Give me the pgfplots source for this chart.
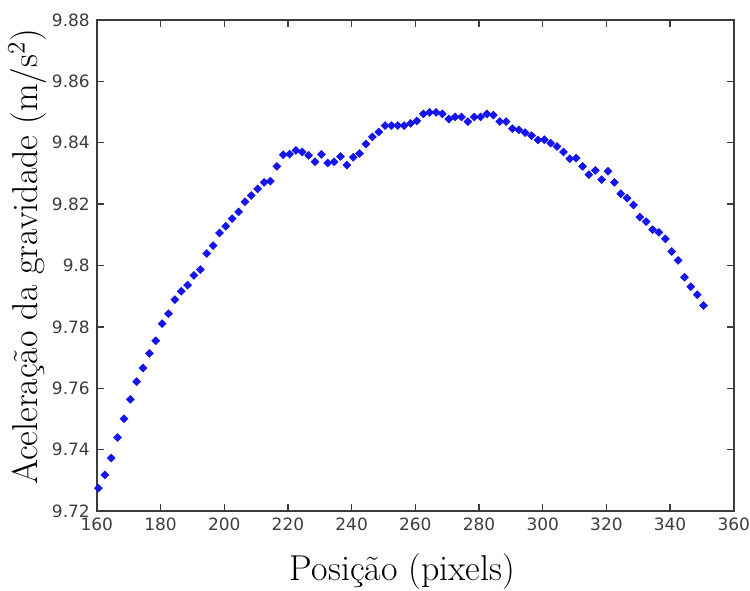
\documentclass[border=0pt]{standalone}
\usepackage{fontspec}
\usepackage{pgfplots}
\pgfplotsset{compat=1.18}
\newfontfamily\tickfont{DejaVu Sans}
\definecolor{axgray}{RGB}{60,60,60}
\definecolor{ptblue}{RGB}{20,20,235}
\begin{document}
\begin{tikzpicture}
\begin{axis}[
  scale only axis,
  width=319pt, height=246pt,
  xmin=160, xmax=360, ymin=9.72, ymax=9.88,
  xtick={160,180,...,360},
  ytick={9.72,9.74,9.76,9.78,9.8,9.82,9.84,9.86,9.88},
  xtick pos=both, ytick pos=both,
  xticklabel pos=lower, yticklabel pos=left,
  tick align=inside,
  major tick length=3.5pt,
  axis line style={axgray, line width=0.8pt},
  every tick/.style={axgray, line width=0.7pt},
  /pgf/number format/assume math mode=true,
  ticklabel style={font=\tickfont\fontsize{8.5}{10}\selectfont, text=axgray},
  yticklabel style={/pgf/number format/.cd, fixed, precision=2},
  xticklabel style={inner xsep=0pt, /pgf/number format/.cd, fixed, precision=0, 1000 sep={}},
  xlabel={Posição (pixels)},
  ylabel={Aceleração da gravidade (m/s\textsuperscript{2})},
  label style={font=\fontsize{18}{21}\selectfont, inner sep=0pt},
  xlabel style={at={(axis description cs:0.48,0)}, anchor=center, yshift=-30pt},
  ylabel style={at={(axis description cs:0,0.518)}, anchor=center, yshift=35pt},
  clip=false,
]
\addplot[only marks, mark=square*, mark size=1.35pt, color=ptblue,
  mark options={rotate=45, draw=ptblue, fill=ptblue}] coordinates {
(160.5,9.7275) (162.5,9.7318) (164.5,9.7373) (166.5,9.7440) (168.5,9.7501)
(170.5,9.7564) (172.5,9.7622) (174.5,9.7666) (176.5,9.7714) (178.5,9.7755)
(180.5,9.7811) (182.5,9.7843) (184.5,9.7889) (186.5,9.7916) (188.5,9.7936)
(190.5,9.7968) (192.5,9.7987) (194.5,9.8039) (196.5,9.8065) (198.5,9.8106)
(200.5,9.8128) (202.5,9.8153) (204.5,9.8175) (206.5,9.8208) (208.5,9.8228)
(210.5,9.8250) (212.5,9.8271) (214.5,9.8275) (216.5,9.8323) (218.5,9.8361)
(220.5,9.8363) (222.5,9.8375) (224.5,9.8370) (226.5,9.8359) (228.5,9.8338)
(230.5,9.8362) (232.5,9.8334) (234.5,9.8338) (236.5,9.8355) (238.5,9.8327)
(240.5,9.8353) (242.5,9.8365) (244.5,9.8396) (246.5,9.8419) (248.5,9.8435)
(250.5,9.8456) (252.5,9.8456) (254.5,9.8456) (256.5,9.8456) (258.5,9.8463)
(260.5,9.8471) (262.5,9.8494) (264.5,9.8499) (266.5,9.8499) (268.5,9.8494)
(270.5,9.8477) (272.5,9.8484) (274.5,9.8484) (276.5,9.8469) (278.5,9.8484)
(280.5,9.8484) (282.5,9.8494) (284.5,9.8490) (286.5,9.8469) (288.5,9.8469)
(290.5,9.8446) (292.5,9.8442) (294.5,9.8433) (296.5,9.8423) (298.5,9.8409)
(300.5,9.8410) (302.5,9.8399) (304.5,9.8388) (306.5,9.8370) (308.5,9.8348)
(310.5,9.8350) (312.5,9.8323) (314.5,9.8296) (316.5,9.8310) (318.5,9.8280)
(320.5,9.8307) (322.5,9.8271) (324.5,9.8234) (326.5,9.8220) (328.5,9.8197)
(330.5,9.8158) (332.5,9.8143) (334.5,9.8117) (336.5,9.8108) (338.5,9.8087)
(340.5,9.8046) (342.5,9.8017) (344.5,9.7962) (346.5,9.7931) (348.5,9.7905)
(350.5,9.7870)
};
\path (rel axis cs:0,0) -- ++(-48.5pt,-39.5pt);
\path (rel axis cs:1,1) -- ++(7.5pt,10pt);
\end{axis}
\end{tikzpicture}
\end{document}
